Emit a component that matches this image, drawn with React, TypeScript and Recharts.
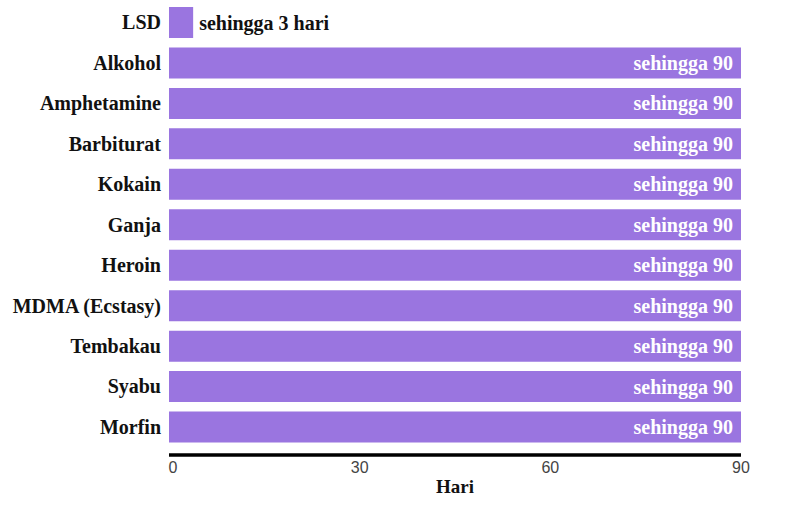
import { BarChart, Bar, XAxis, YAxis, LabelList } from 'recharts';

/* ───────── Data ───────── */

const DRUGS = [
  'LSD', 'Alkohol', 'Amphetamine', 'Barbiturat', 'Kokain', 'Ganja',
  'Heroin', 'MDMA (Ecstasy)', 'Tembakau', 'Syabu', 'Morfin',
];
const DAYS = [3.8, 90, 90, 90, 90, 90, 90, 90, 90, 90, 90];
const BAR_LABELS = [
  'sehingga 3 hari', 'sehingga 90', 'sehingga 90', 'sehingga 90', 'sehingga 90',
  'sehingga 90', 'sehingga 90', 'sehingga 90', 'sehingga 90', 'sehingga 90', 'sehingga 90',
];
const X_TICKS = [0, 30, 60, 90];

const BAR_COLOR = '#9a75e0';
const SERIF = '"Liberation Serif", "DejaVu Serif", serif';
const SANS = '"Liberation Sans", Arial, sans-serif';

/* ───────── Helpers ───────── */

function BarText(props: any) {
  const { x, y, width, height, index } = props;
  const text = BAR_LABELS[index];
  const inside = width > 120;
  return (
    <text
      x={inside ? x + width - 8 : x + width + 6}
      y={y + height / 2}
      dy="0.35em"
      textAnchor={inside ? 'end' : 'start'}
      fill={inside ? '#ffffff' : '#111111'}
      style={{ fontFamily: SERIF, fontWeight: 'bold', fontSize: 20 }}
    >
      {text}
    </text>
  );
}

function XTick(props: any) {
  const { x, y, payload, index } = props;
  return (
    <text
      x={x + (index === 0 ? 4 : 0)}
      y={y}
      dy="0.71em"
      textAnchor="middle"
      fill="#444"
      style={{ fontFamily: SANS, fontSize: 16 }}
    >
      {payload.value}
    </text>
  );
}

export default function App() {
  const data = DRUGS.map((name, i) => ({ name, days: DAYS[i] }));
  return (
    <div style={{ width: 807, height: 509, background: '#fff' }}>
      <style>{'body{margin:0}'}</style>
      <BarChart
        width={807}
        height={509}
        data={data}
        layout="vertical"
        margin={{ top: 2, right: 66, left: 0, bottom: 16 }}
      >
        <XAxis
          type="number"
          domain={[0, 90]}
          ticks={X_TICKS}
          tickLine={false}
          axisLine={{ stroke: '#000', strokeWidth: 3.5 }}
          tick={<XTick />}
          tickMargin={1}
          height={38}
          label={{ value: 'Hari', position: 'insideBottom', offset: 0, fill: '#111', fontFamily: SERIF, fontWeight: 'bold', fontSize: 19 }}
        />
        <YAxis
          type="category"
          dataKey="name"
          width={169}
          tickLine={false}
          axisLine={false}
          tickMargin={2}
          padding={{ top: 0, bottom: 8 }}
          tick={{ fill: '#111', fontFamily: SERIF, fontWeight: 'bold', fontSize: 20 }}
        />
        <Bar dataKey="days" fill={BAR_COLOR} barSize={31} isAnimationActive={false}>
          <LabelList dataKey="days" content={<BarText />} />
        </Bar>
      </BarChart>
    </div>
  );
}
